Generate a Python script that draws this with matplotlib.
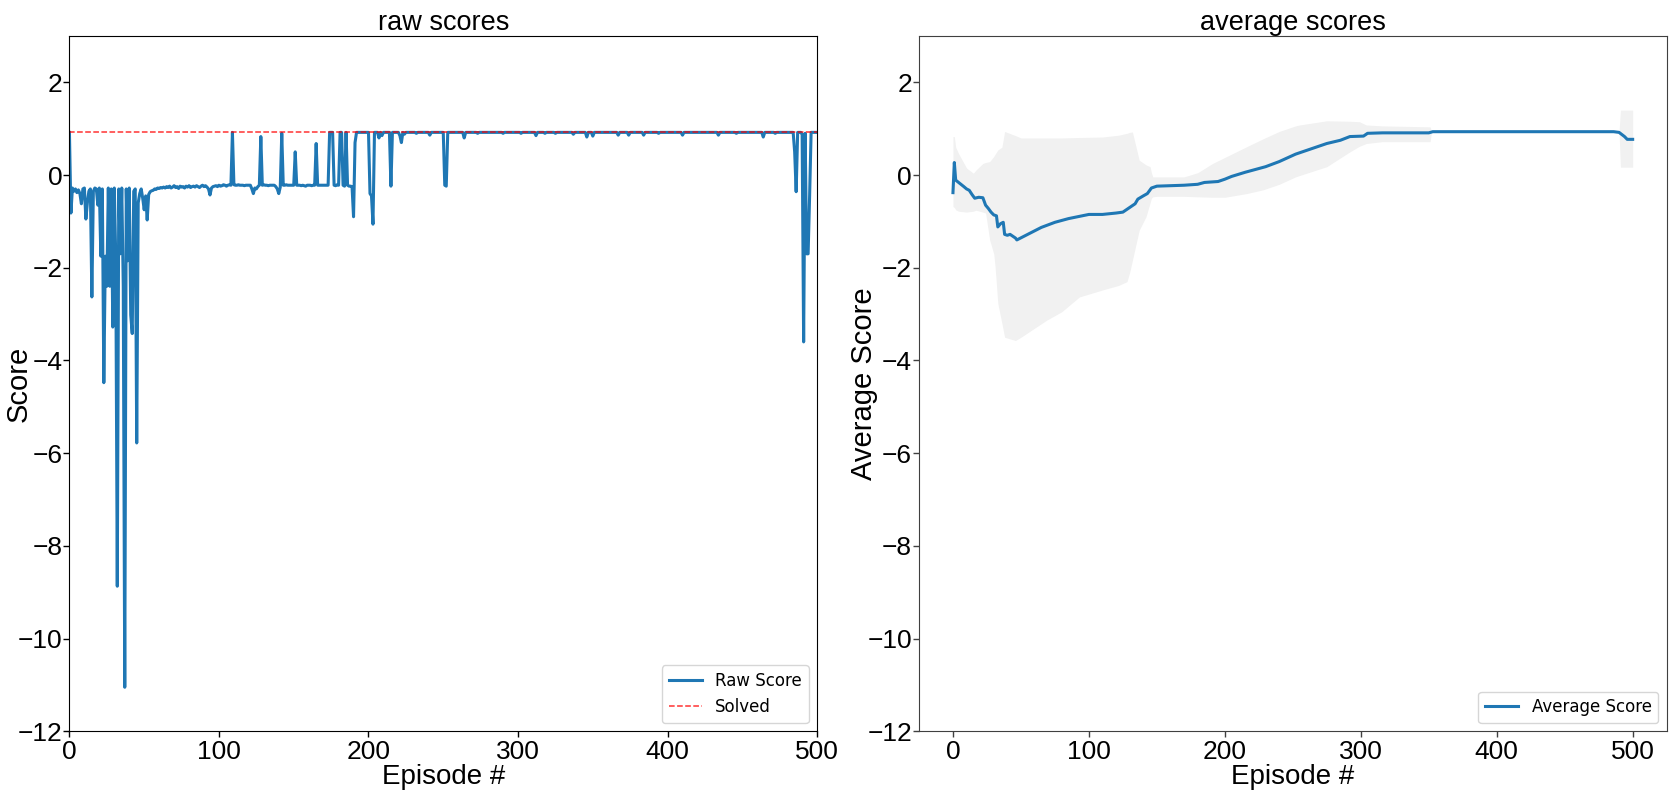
import numpy as np
import matplotlib
matplotlib.use("Agg")
import matplotlib.pyplot as plt

plt.rcParams['font.family'] = ['Liberation Sans', 'DejaVu Sans']

# raw score per episode, episodes 0..499
raw_scores = [
    0.92, -0.82, -0.28, -0.35, -0.30, -0.38, -0.32, -0.40, -0.62, -0.30, -0.28, -0.95, -0.60, -0.35, -0.30, -2.63, -0.35, -0.28, -0.30, -0.65,
    -0.28, -1.75, -0.30, -4.48, -1.75, -2.40, -0.28, -2.40, -0.30, -3.28, -0.28, -1.80, -8.87, -0.30, -1.70, -0.28, -2.40, -11.05, -0.30, -1.85,
    -0.28, -3.02, -3.42, -0.35, -0.30, -5.78, -0.60, -0.40, -0.30, -0.50, -0.75, -0.45, -0.97, -0.42, -0.36, -0.34, -0.33, -0.30, -0.31, -0.28,
    -0.29, -0.27, -0.28, -0.26, -0.28, -0.25, -0.27, -0.24, -0.28, -0.26, -0.23, -0.27, -0.25, -0.29, -0.24, -0.26, -0.25, -0.28, -0.24, -0.26,
    -0.23, -0.27, -0.25, -0.24, -0.26, -0.23, -0.25, -0.27, -0.24, -0.22, -0.25, -0.23, -0.26, -0.30, -0.43, -0.28, -0.25, -0.24, -0.23, -0.25,
    -0.22, -0.24, -0.23, -0.21, -0.22, -0.24, -0.22, -0.21, -0.22, 0.92, -0.21, -0.22, -0.22, -0.21, -0.22, -0.22, -0.22, -0.23, -0.22, -0.22,
    -0.22, -0.22, -0.30, -0.40, -0.28, -0.30, -0.25, -0.22, 0.83, -0.22, -0.21, -0.22, -0.22, -0.23, -0.22, -0.22, -0.22, -0.22, -0.25, -0.30,
    -0.40, -0.26, 0.90, -0.22, -0.22, -0.21, -0.22, -0.22, -0.22, -0.22, -0.22, 0.50, -0.22, -0.22, -0.22, -0.23, -0.22, -0.23, -0.24, -0.22,
    -0.22, -0.22, -0.23, -0.22, -0.22, 0.68, -0.22, -0.22, -0.22, -0.22, -0.22, -0.22, -0.22, -0.22, 0.92, 0.92, 0.92, -0.22, -0.23, -0.21,
    -0.22, 0.92, 0.92, -0.22, -0.24, 0.92, -0.22, -0.24, -0.24, -0.25, -0.90, 0.70, 0.92, 0.92, 0.92, 0.92, 0.92, 0.92, 0.92, 0.92,
    0.92, -0.40, -0.45, -1.06, 0.92, 0.92, 0.92, 0.80, 0.92, 0.85, 0.92, 0.92, 0.92, 0.92, 0.92, -0.24, 0.92, 0.92, 0.92, 0.92,
    0.92, 0.85, 0.70, 0.92, 0.88, 0.92, 0.92, 0.92, 0.92, 0.92, 0.92, 0.92, 0.90, 0.92, 0.92, 0.92, 0.92, 0.92, 0.92, 0.92,
    0.92, 0.86, 0.92, 0.92, 0.92, 0.92, 0.92, 0.92, 0.92, 0.92, 0.92, -0.22, -0.24, 0.92, 0.92, 0.92, 0.92, 0.92, 0.92, 0.92,
    0.92, 0.92, 0.92, 0.92, 0.80, 0.92, 0.92, 0.92, 0.92, 0.92, 0.92, 0.92, 0.92, 0.90, 0.92, 0.92, 0.92, 0.92, 0.92, 0.92,
    0.92, 0.92, 0.92, 0.92, 0.92, 0.92, 0.92, 0.92, 0.92, 0.92, 0.90, 0.92, 0.92, 0.92, 0.92, 0.92, 0.92, 0.92, 0.92, 0.92,
    0.92, 0.92, 0.90, 0.92, 0.92, 0.92, 0.92, 0.92, 0.92, 0.92, 0.92, 0.92, 0.85, 0.92, 0.92, 0.92, 0.92, 0.92, 0.90, 0.92,
    0.92, 0.92, 0.92, 0.92, 0.92, 0.90, 0.92, 0.92, 0.92, 0.92, 0.92, 0.92, 0.92, 0.92, 0.92, 0.92, 0.92, 0.88, 0.92, 0.92,
    0.92, 0.92, 0.92, 0.92, 0.92, 0.92, 0.82, 0.92, 0.92, 0.92, 0.84, 0.92, 0.92, 0.92, 0.92, 0.92, 0.92, 0.92, 0.92, 0.92,
    0.92, 0.92, 0.92, 0.92, 0.92, 0.92, 0.92, 0.86, 0.92, 0.92, 0.92, 0.92, 0.92, 0.92, 0.86, 0.92, 0.92, 0.92, 0.92, 0.92,
    0.92, 0.92, 0.92, 0.92, 0.86, 0.92, 0.92, 0.92, 0.92, 0.92, 0.92, 0.92, 0.92, 0.92, 0.90, 0.92, 0.92, 0.92, 0.92, 0.92,
    0.92, 0.92, 0.92, 0.92, 0.92, 0.92, 0.92, 0.92, 0.92, 0.92, 0.86, 0.92, 0.92, 0.92, 0.92, 0.92, 0.92, 0.92, 0.92, 0.92,
    0.92, 0.92, 0.92, 0.92, 0.92, 0.92, 0.92, 0.92, 0.92, 0.92, 0.92, 0.92, 0.92, 0.92, 0.86, 0.92, 0.92, 0.92, 0.92, 0.92,
    0.92, 0.92, 0.92, 0.92, 0.92, 0.92, 0.90, 0.92, 0.92, 0.92, 0.92, 0.92, 0.92, 0.92, 0.92, 0.92, 0.92, 0.92, 0.92, 0.92,
    0.92, 0.92, 0.92, 0.92, 0.82, 0.92, 0.92, 0.92, 0.92, 0.92, 0.92, 0.92, 0.90, 0.92, 0.92, 0.92, 0.92, 0.92, 0.92, 0.92,
    0.92, 0.92, 0.92, 0.92, 0.92, 0.50, -0.36, 0.92, 0.92, 0.92, 0.88, -3.60, 0.90, -1.70, -1.70, -0.45, 0.92, 0.92, 0.92, 0.92,
]
solved_score = 0.92

# running average
avg_ep = [0, 1, 2, 5, 8, 10, 12, 14, 16, 19, 22, 24, 26, 28, 30, 32, 33, 35, 37, 38, 40, 42, 44, 46, 47,
          55, 65, 75, 85, 95, 100, 110, 120, 125, 130, 134, 136, 140, 143, 146, 150, 170, 180, 185, 195,
          200, 205, 215, 230, 240, 252, 262, 275, 285, 292, 302, 305, 316, 350, 353, 486, 490, 494, 496, 500]
avg_score = [-0.38, 0.27, -0.11, -0.18, -0.25, -0.30, -0.33, -0.42, -0.50, -0.48, -0.49, -0.65, -0.72, -0.80, -0.86, -0.88,
             -1.12, -1.05, -1.02, -1.28, -1.30, -1.28, -1.32, -1.36, -1.40,
             -1.28, -1.13, -1.02, -0.94, -0.88, -0.85, -0.85, -0.82, -0.80, -0.70, -0.62, -0.52, -0.45, -0.40, -0.28,
             -0.24, -0.22, -0.20, -0.16, -0.14,
             -0.09, -0.03, 0.06, 0.18, 0.29, 0.45, 0.55, 0.68, 0.75, 0.83, 0.84, 0.90, 0.91, 0.91, 0.935,
             0.935, 0.92, 0.83, 0.77, 0.77]

# spread band around the average
band_ep = [0, 1, 2, 4, 10, 15, 17, 22, 24, 27, 30, 31, 33, 36, 38, 46, 50, 69, 80, 93, 110, 122, 128, 130, 132,
           137, 142, 145, 146, 147, 150, 170, 180, 191, 200, 216, 228, 240, 252, 255, 275, 292, 299, 304,
           316, 350, 351, 352, 490, 491, 500]
band_lo = [-0.68, -0.70, -0.75, -0.78, -0.80, -0.78, -0.76, -0.80, -0.82, -1.40, -1.70, -1.98, -2.77, -3.20, -3.50,
           -3.57, -3.50, -3.13, -2.95, -2.63, -2.48, -2.38, -2.30, -2.10, -1.84,
           -1.19, -0.90, -0.60, -0.50, -0.47, -0.46, -0.46, -0.47, -0.48, -0.48, -0.40, -0.32, -0.20, -0.04, -0.01,
           0.18, 0.50, 0.62, 0.68, 0.72, 0.72, 0.72, 0.93, 0.93, 0.17, 0.17]
band_hi = [0.83, 0.83, 0.60, 0.47, 0.15, 0.04, 0.11, 0.25, 0.27, 0.29, 0.40, 0.45, 0.54, 0.60, 0.94,
           0.85, 0.80, 0.80, 0.80, 0.81, 0.82, 0.86, 0.90, 0.92, 0.93,
           0.32, 0.22, 0.18, 0.05, -0.04, -0.04, -0.04, 0.05, 0.25, 0.38, 0.61, 0.78, 0.94, 1.06, 1.08,
           1.17, 1.16, 1.15, 1.08, 1.06, 1.04, 1.04, 0.94, 0.94, 1.40, 1.40]

episodes = np.arange(len(raw_scores))

fig = plt.figure(figsize=(16.73, 7.94), dpi=100)
ax1 = fig.add_axes([0.0415, 0.079, 0.4469, 0.8757])
ax2 = fig.add_axes([0.5493, 0.079, 0.4469, 0.8757])

# raw scores
ax1.plot(episodes, raw_scores, color='#1f77b4', lw=2.2, label='Raw Score')
ax1.axhline(solved_score, color='red', ls='--', lw=1.1, alpha=0.8, label='Solved')
ax1.set_xlim(0, 500)
ax1.set_ylim(-12, 3)
ax1.set_title('raw scores', fontsize=19.5, pad=4)
ax1.set_xlabel('Episode #', fontsize=20, labelpad=0)
ax1.set_ylabel('Score', fontsize=21, va='center')
ax1.yaxis.set_label_coords(-0.068, 0.5)
ax1.legend(loc='lower right', prop={'family': 'DejaVu Sans', 'size': 12})

# average scores
ax2.fill_between(band_ep, band_lo, band_hi, color='#f1f1f1', lw=0)
ax2.plot(avg_ep, avg_score, color='#1f77b4', lw=2.2, label='Average Score')
ax2.set_xlim(-25, 525)
ax2.set_ylim(-12, 3)
ax2.set_title('average scores', fontsize=19.5, pad=4)
ax2.set_xlabel('Episode #', fontsize=20, labelpad=0)
ax2.set_ylabel('Average Score', fontsize=21, va='center')
ax2.yaxis.set_label_coords(-0.074, 0.5)
ax2.legend(loc='lower right', prop={'family': 'DejaVu Sans', 'size': 12})

for ax in (ax1, ax2):
    ax.set_xticks([0, 100, 200, 300, 400, 500])
    ax.set_yticks(np.arange(-12, 3, 2))
    ax.tick_params(labelsize=19, length=4.5, width=1)
    ax.tick_params(axis='y', pad=0.5)
    ax.tick_params(axis='x', pad=2)
for side in ax2.spines.values():
    side.set_color('0.25')
ax2.tick_params(color='0.25')

fig.savefig('out.png', dpi=100)
